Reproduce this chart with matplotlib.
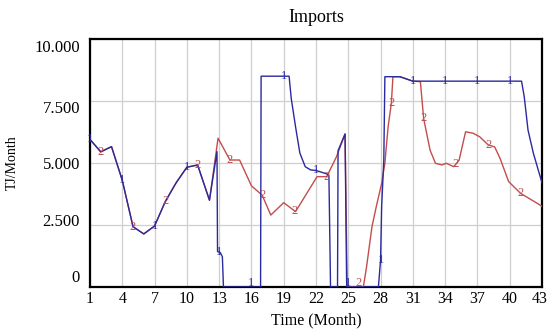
import numpy as np
import matplotlib
matplotlib.use("Agg")
import matplotlib.pyplot as plt
import matplotlib.transforms as mtransforms

plt.rcParams['font.family'] = ['Liberation Serif', 'DejaVu Serif']

# ---- data ----
blue_t = [1.0, 2.0, 3.0, 4.0, 5.0, 6.0, 7.0, 8.0, 9.0, 10.0, 11.0, 12.1, 12.8,
          12.85, 13.1, 13.3, 13.4, 16.85, 16.9, 19.5, 19.7, 20.1, 20.5, 21.0,
          21.5, 22.0, 23.0, 23.2, 23.35, 24.0, 24.05, 24.7, 24.85, 27.8, 28.0,
          28.1, 28.3, 28.4, 29.8, 31.0, 41.1, 41.35, 41.7, 42.2, 43.0]
blue_v = [5950, 5450, 5660, 4300, 2430, 2140, 2460, 3450, 4200, 4830, 4920, 3500, 5460,
          1430, 1390, 1220, 0, 0, 8500, 8500, 7600, 6460, 5400, 4850,
          4720, 4700, 4560, 4500, 0, 0, 5500, 6170, 0, 0, 1090,
          3240, 5120, 8480, 8480, 8300, 8300, 7670, 6330, 5390, 4200]

red_t = [1.0, 2.0, 3.0, 4.0, 5.0, 6.0, 7.0, 8.0, 9.0, 10.0, 11.0, 12.1, 12.9,
         14.0, 14.9, 16.0, 17.0, 17.8, 19.0, 20.1, 22.1, 23.0, 23.9, 24.7,
         24.9, 26.4, 26.7, 27.2, 27.6, 28.1, 28.4, 28.7, 29.0, 29.15, 29.8,
         31.0, 31.7, 32.0, 32.6, 33.1, 33.7, 34.1, 34.8, 35.3, 35.9, 36.6,
         37.2, 38.0, 38.6, 39.1, 39.9, 41.0, 42.8, 43.0]
red_v = [5950, 5450, 5660, 4300, 2430, 2140, 2460, 3450, 4200, 4830, 4920, 3500, 6000,
         5120, 5120, 4080, 3700, 2900, 3400, 3040, 4450, 4450, 5250, 6170,
         0, 0, 820, 2430, 3240, 4180, 4990, 6460, 7400, 8480, 8480,
         8300, 8280, 6800, 5520, 4990, 4920, 4990, 4850, 5120, 6260, 6200,
         6060, 5730, 5650, 5190, 4250, 3780, 3310, 3250]

blue_marks = [1, 4, 7, 10, 13, 16, 19, 22, 25, 28, 31, 34, 37, 40]
red_marks = [2, 5, 8, 11, 14, 17, 20, 23, 26, 29, 32, 35, 38, 41]

x_ticks = list(range(1, 44, 3))
y_ticks = [0, 2500, 5000, 7500, 10000]
y_tick_labels = ["0", "2.500", "5.000", "7.500", "10.000"]

title = "Imports"
x_label = "Time (Month)"
y_label = "TJ/Month"

BLUE = "#2a2aa0"
RED = "#c44c4c"

fig = plt.figure(figsize=(5.48, 3.29), dpi=100)
ax = fig.add_axes([90/548, 1-287/329, (542-90)/548, (287-39)/329])

ax.plot(red_t, red_v, color=RED, lw=1.0, zorder=3)
ax.plot(blue_t, blue_v, color=BLUE, lw=1.0, zorder=4)

# series number markers; those lying on the zero line are lifted a few pixels
lift = mtransforms.ScaledTranslation(0, 4/100, fig.dpi_scale_trans)
for marks, tt, vv, lab, col in [(blue_marks, blue_t, blue_v, "1", BLUE),
                                (red_marks, red_t, red_v, "2", RED)]:
    for m in marks:
        y = np.interp(m, tt, vv)
        tr = ax.transData + lift if y < 100 else ax.transData
        ax.text(m, y, lab, color=col, fontsize=9, ha='center', va='center',
                zorder=5, transform=tr)

ax.set_xlim(1, 43)
ax.set_ylim(0, 10000)
ax.set_xticks(x_ticks)
ax.set_xticklabels([str(v) for v in x_ticks], fontsize=11.5)
ax.set_yticks(y_ticks)
ax.set_yticklabels([])
ax.tick_params(axis='x', length=0, pad=3)
ax.tick_params(axis='y', length=0)
ax.grid(True, color="#cfcfcf", lw=0.9)
ax.set_axisbelow(True)
for s in ax.spines.values():
    s.set_linewidth(1.6)
    s.set_color('black')

# nudge the last x tick label slightly left so it stays inside the figure
last = ax.get_xticklabels()[-1]
last.set_transform(last.get_transform() + mtransforms.ScaledTranslation(-2/100, 0, fig.dpi_scale_trans))

# y tick labels placed like the reference (Vensim spacing)
label_pos = [0.036, 0.262, 0.492, 0.718, 0.962]
for lab, p in zip(y_tick_labels, label_pos):
    ax.text(-10/452, p, lab, transform=ax.transAxes, ha='right', va='center', fontsize=12)

fig.text(316/548, 1-17/329, title, ha='center', va='center', fontsize=13)
fig.text(316/548, 1-320/329, x_label, ha='center', va='center', fontsize=11.5)
fig.text(12/548, 1-163/329, y_label, ha='center', va='center', fontsize=10, rotation=90)

fig.savefig("out.png", dpi=100)
